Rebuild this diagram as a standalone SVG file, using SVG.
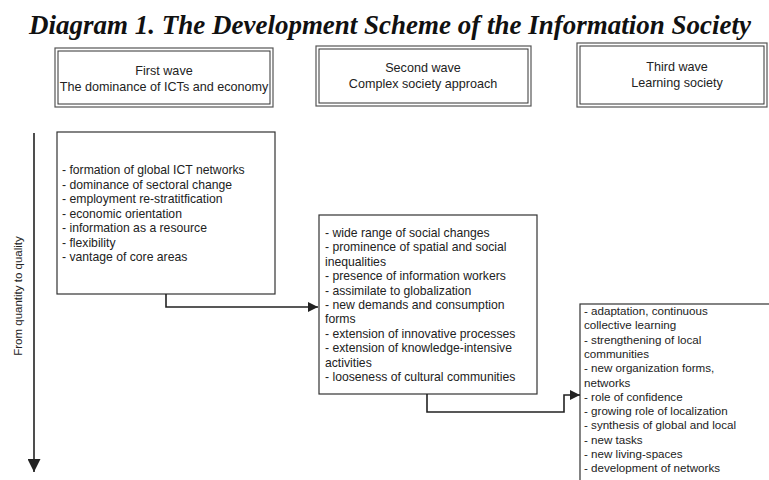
<svg xmlns="http://www.w3.org/2000/svg" width="769" height="480" viewBox="0 0 769 480">
<defs>
<style>
.title{font-family:"Liberation Serif",serif;font-weight:bold;font-style:italic;font-size:28px;fill:#111;}
.hd{font-family:"Liberation Sans",Arial,sans-serif;font-size:12.6px;fill:#222;text-anchor:middle;}
.bd{font-family:"Liberation Sans",Arial,sans-serif;font-size:12.2px;fill:#222;}
.bd3{font-family:"Liberation Sans",Arial,sans-serif;font-size:11.6px;fill:#222;}
.box{fill:#fff;stroke:#333;stroke-width:1.2;}
.outer{fill:#fff;stroke:#555;stroke-width:1.2;}
.inner{fill:none;stroke:#333;stroke-width:1;}
.conn{fill:none;stroke:#222;stroke-width:1.6;}
</style>
<marker id="ah" viewBox="0 0 10 10" refX="10" refY="5" markerWidth="10" markerHeight="10" markerUnits="userSpaceOnUse" orient="auto">
<path d="M0,0 L10,5 L0,10 z" fill="#222"/>
</marker>
<marker id="ahBig" viewBox="0 0 12 12" refX="12" refY="6" markerWidth="13" markerHeight="13" markerUnits="userSpaceOnUse" orient="auto">
<path d="M0,0 L12,6 L0,12 z" fill="#222"/>
</marker>
</defs>
<rect width="769" height="480" fill="#fff"/>
<text class="title" x="390" y="34" text-anchor="middle" textLength="722" lengthAdjust="spacingAndGlyphs">Diagram 1. The Development Scheme of the Information Society</text>

<g id="wave1">
<rect class="outer" x="55" y="48" width="218" height="59"/>
<rect class="inner" x="58" y="51" width="212" height="53"/>
<text class="hd" x="164" y="75">First wave</text>
<text class="hd" x="164" y="91">The dominance of ICTs and economy</text>
</g>
<g id="wave2">
<rect class="outer" x="316" y="46" width="215" height="60"/>
<rect class="inner" x="319" y="49" width="209" height="54"/>
<text class="hd" x="423" y="72">Second wave</text>
<text class="hd" x="423" y="88">Complex society approach</text>
</g>
<g id="wave3">
<rect class="outer" x="577" y="43" width="190" height="64"/>
<rect class="inner" x="580" y="46" width="184" height="58"/>
<text class="hd" x="677" y="71">Third wave</text>
<text class="hd" x="677" y="87">Learning society</text>
</g>

<g id="axis">
<line x1="34" y1="133" x2="34" y2="472" stroke="#222" stroke-width="1.6" marker-end="url(#ahBig)"/>
<text class="hd" transform="translate(22,296) rotate(-90)" x="0" y="0" style="font-size:11.5px">From quantity to quality</text>
</g>

<g id="box1">
<rect class="box" x="57" y="132" width="218" height="162"/>
<text class="bd" x="62" y="174">- formation of global ICT networks</text>
<text class="bd" x="62" y="188.5">- dominance of sectoral change</text>
<text class="bd" x="62" y="203">- employment re-stratitfication</text>
<text class="bd" x="62" y="217.5">- economic orientation</text>
<text class="bd" x="62" y="232">- information as a resource</text>
<text class="bd" x="62" y="246.5">- flexibility</text>
<text class="bd" x="62" y="261">- vantage of core areas</text>
</g>

<g id="box2">
<rect class="box" x="319" y="215" width="218" height="179"/>
<text class="bd" x="325" y="237">- wide range of social changes</text>
<text class="bd" x="325" y="251.4">- prominence of spatial and social</text>
<text class="bd" x="325" y="265.8">inequalities</text>
<text class="bd" x="325" y="280.2">- presence of information workers</text>
<text class="bd" x="325" y="294.6">- assimilate to globalization</text>
<text class="bd" x="325" y="309">- new demands and consumption</text>
<text class="bd" x="325" y="323.4">forms</text>
<text class="bd" x="325" y="337.8">- extension of innovative processes</text>
<text class="bd" x="325" y="352.2">- extension of knowledge-intensive</text>
<text class="bd" x="325" y="366.6">activities</text>
<text class="bd" x="325" y="381">- looseness of cultural communities</text>
</g>

<g id="box3">
<rect class="box" x="580" y="304" width="200" height="190"/>
<text class="bd3" x="584" y="315">- adaptation, continuous</text>
<text class="bd3" x="584" y="329.3">collective learning</text>
<text class="bd3" x="584" y="343.6">- strengthening of local</text>
<text class="bd3" x="584" y="357.9">communities</text>
<text class="bd3" x="584" y="372.2">- new organization forms,</text>
<text class="bd3" x="584" y="386.5">networks</text>
<text class="bd3" x="584" y="400.8">- role of confidence</text>
<text class="bd3" x="584" y="415.1">- growing role of localization</text>
<text class="bd3" x="584" y="429.4">- synthesis of global and local</text>
<text class="bd3" x="584" y="443.7">- new tasks</text>
<text class="bd3" x="584" y="458">- new living-spaces</text>
<text class="bd3" x="584" y="472.3">- development of networks</text>
</g>

<g id="connectors">
<path class="conn" d="M166,294 V307 H318" marker-end="url(#ah)"/>
<path class="conn" d="M427,394 V412 H564 V395 H580" marker-end="url(#ah)"/>
</g>
</svg>
